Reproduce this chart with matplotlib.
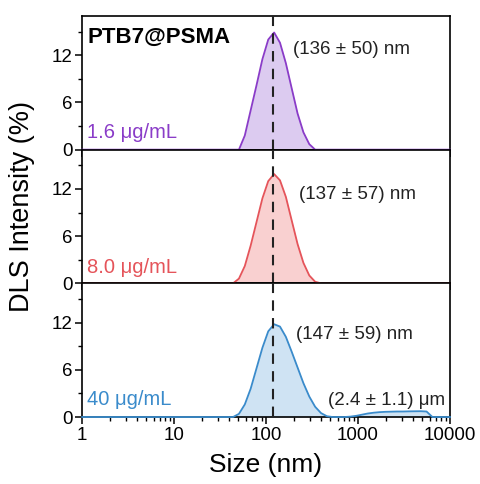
"""
DLS size distributions of PTB7@PSMA at three concentrations.
"""
import matplotlib.pyplot as plt
from matplotlib.ticker import LogLocator, NullFormatter, MultipleLocator

plt.rcParams['font.family'] = ['Liberation Sans', 'DejaVu Sans']

# size bins (nm) and intensity (%) for each concentration
size_low = [1.0, 43.82, 50.75, 58.77, 68.06, 78.82, 91.28, 105.7, 122.4,
            141.8, 164.2, 190.1, 220.2, 255.0, 295.3, 342.0, 396.1, 10000.0]
int_low = [0, 0, 0, 1.8, 5.0, 8.2, 11.5, 14.0, 14.9,
           13.6, 11.0, 7.8, 4.6, 2.2, 0.7, 0, 0, 0]

size_mid = [1.0, 43.82, 50.75, 58.77, 68.06, 78.82, 91.28, 105.7, 122.4,
            141.8, 164.2, 190.1, 220.2, 255.0, 295.3, 342.0, 396.1, 10000.0]
int_mid = [0, 0, 0.6, 2.2, 4.8, 7.8, 10.8, 13.0, 13.9,
           13.1, 11.0, 8.0, 5.0, 2.6, 1.0, 0.2, 0, 0]

size_high = [1.0, 43.82, 50.75, 58.77, 68.06, 78.82, 91.28, 105.7, 122.4,
             141.8, 164.2, 190.1, 220.2, 255.0, 295.3, 342.0, 396.1, 458.7,
             531.2, 615.1, 712.4, 825.0, 955.4, 1106, 1281, 1484, 1718,
             1990, 2305, 2669, 3091, 3580, 4145, 4801, 5560, 6439, 10000.0]
int_high = [0, 0, 0.4, 1.6, 3.6, 6.2, 8.8, 10.9, 11.8,
            11.5, 10.2, 8.3, 6.3, 4.3, 2.6, 1.3, 0.5, 0.1,
            0, 0, 0, 0.05, 0.15, 0.3, 0.45, 0.55, 0.62,
            0.66, 0.68, 0.7, 0.7, 0.72, 0.73, 0.74, 0.7, 0, 0]

concentrations = ['1.6 μg/mL', '8.0 μg/mL', '40 μg/mL']
peak_labels = ['(136 ± 50) nm', '(137 ± 57) nm', '(147 ± 59) nm']
peak_label_pos = [(0.573, 0.746), (0.59, 0.664), (0.582, 0.62)]
line_colors = ['#8a3cc8', '#e5545a', '#3a8bcb']
fill_colors = ['#dccbf0', '#f9d0d0', '#cfe3f3']
mean_size = 118

panels = [(size_low, int_low), (size_mid, int_mid), (size_high, int_high)]

fig = plt.figure(figsize=(4.8, 4.84), dpi=100)
axes = fig.subplots(3, 1, sharex=True)
fig.subplots_adjust(left=0.171, right=0.9375, top=0.967, bottom=0.1384,
                    hspace=0)

for i, ax in enumerate(axes):
    sizes, intens = panels[i]
    ax.fill_between(sizes, intens, 0, color=fill_colors[i], lw=0, zorder=1)
    ax.plot(sizes, intens, color=line_colors[i], lw=1.3, zorder=3,
            clip_on=False)
    ax.axvline(mean_size, color='#222222', ls=(0, (5, 3.5)), lw=1.5,
               zorder=4)

    ax.set_xscale('log')
    ax.set_xlim(1, 10000)
    ax.set_ylim(0, 17)
    ax.yaxis.set_major_locator(MultipleLocator(6))
    ax.yaxis.set_minor_locator(MultipleLocator(3))
    ax.xaxis.set_major_locator(LogLocator(base=10, numticks=10))
    ax.xaxis.set_minor_locator(LogLocator(base=10, subs=range(2, 10),
                                          numticks=10))
    ax.xaxis.set_minor_formatter(NullFormatter())
    ax.tick_params(which='major', direction='out', length=5, width=1.1,
                   labelsize=13.5, pad=2)
    ax.tick_params(which='minor', direction='out', length=3, width=1.0)
    for spine in ax.spines.values():
        spine.set_linewidth(1.2)

    ax.text(0.014, 0.13 if i != 1 else 0.119, concentrations[i],
            transform=ax.transAxes, color=line_colors[i], fontsize=14.5,
            ha='left', va='center')
    px, py = peak_label_pos[i]
    ax.text(px, py, peak_labels[i], transform=ax.transAxes, fontsize=13.5,
            ha='left', va='center', color='#222222')

axes[0].text(0.016, 0.843, 'PTB7@PSMA', transform=axes[0].transAxes,
             fontsize=16, fontweight='bold', ha='left', va='center')
axes[2].text(0.668, 0.127, '(2.4 ± 1.1) μm', transform=axes[2].transAxes,
             fontsize=13.5, ha='left', va='center', color='#222222')
axes[2].xaxis.set_major_formatter(
    plt.FuncFormatter(lambda v, pos: f'{v:g}'))

fig.text(22 / 480, 1 - 206 / 484, 'DLS Intensity (%)', rotation=90,
         fontsize=19.5, ha='center', va='center')
fig.text(266 / 480, 1 - 465 / 484, 'Size (nm)', fontsize=19,
         ha='center', va='center')

fig.savefig('out.png')
